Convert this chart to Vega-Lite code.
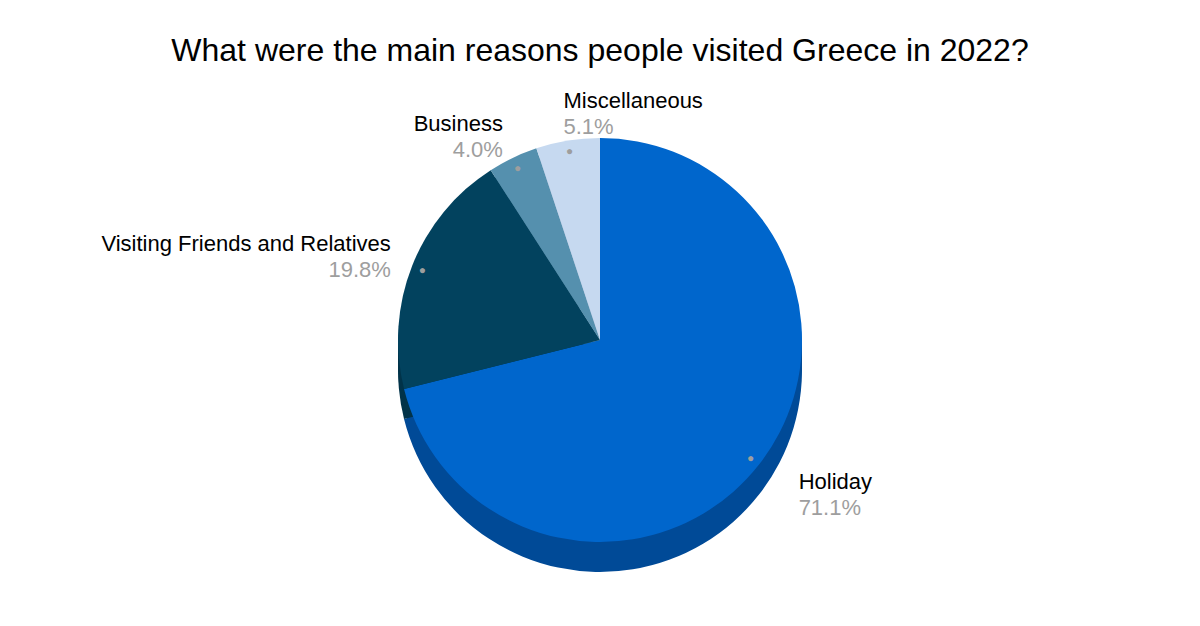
{
  "$schema": "https://vega.github.io/schema/vega-lite/v6.json",
  "width": 1200,
  "height": 464,
  "autosize": "none",
  "padding": {"top": 108, "left": 0, "right": 0, "bottom": 54},
  "background": "#ffffff",
  "title": {
    "text": "What were the main reasons people visited Greece in 2022?",
    "font": "Liberation Sans",
    "fontSize": 32,
    "fontWeight": "normal",
    "color": "#000000",
    "anchor": "middle",
    "offset": -1
  },
  "config": {"view": {"stroke": null}, "text": {"font": "Liberation Sans"}},
  "data": {
    "values": [
      {"reason": "Holiday", "share": 0.711, "order": 1},
      {"reason": "Visiting Friends and Relatives", "share": 0.198, "order": 2},
      {"reason": "Business", "share": 0.040, "order": 3},
      {"reason": "Miscellaneous", "share": 0.051, "order": 4}
    ]
  },
  "encoding": {
    "theta": {"field": "share", "type": "quantitative", "stack": true},
    "order": {"field": "order", "type": "quantitative", "sort": "ascending"}
  },
  "layer": [
    {
      "mark": {"type": "arc", "outerRadius": 202, "yOffset": 10},
      "encoding": {"color": {"field": "reason", "type": "nominal", "legend": null,
        "scale": {"domain": ["Holiday", "Visiting Friends and Relatives", "Business", "Miscellaneous"], "range": ["#004a97", "#013349", "#42708a", "#9db0c6"]}}}
    },
    {
      "mark": {"type": "arc", "outerRadius": 202, "yOffset": 20},
      "encoding": {"color": {"field": "reason", "type": "nominal", "legend": null,
        "scale": {"domain": ["Holiday", "Visiting Friends and Relatives", "Business", "Miscellaneous"], "range": ["#004a97", "#013349", "#42708a", "#9db0c6"]}}}
    },
    {
      "mark": {"type": "arc", "outerRadius": 202, "yOffset": 30},
      "encoding": {"color": {"field": "reason", "type": "nominal", "legend": null,
        "scale": {"domain": ["Holiday", "Visiting Friends and Relatives", "Business", "Miscellaneous"], "range": ["#004a97", "#013349", "#42708a", "#9db0c6"]}}}
    },
    {
      "mark": {"type": "arc", "outerRadius": 202},
      "encoding": {"color": {"field": "reason", "type": "nominal", "legend": null,
        "scale": {"domain": ["Holiday", "Visiting Friends and Relatives", "Business", "Miscellaneous"], "range": ["#0066cc", "#02425e", "#5590ae", "#c6d9f0"]}}}
    },
    {
      "mark": {"type": "text", "radius": 191, "fontSize": 12, "color": "#9e9e9e", "baseline": "middle"},
      "encoding": {"text": {"value": "●"}}
    },
    {
      "mark": {"type": "text", "radius": 252, "align": "left", "baseline": "middle", "fontSize": 22, "color": "#000000", "dy": -13},
      "encoding": {"text": {"condition": {"test": "datum.reason == 'Holiday'", "field": "reason"}, "value": ""}}
    },
    {
      "mark": {"type": "text", "radius": 252, "align": "left", "baseline": "middle", "fontSize": 22, "color": "#9e9e9e", "dy": 13},
      "encoding": {"text": {"condition": {"test": "datum.reason == 'Holiday'", "field": "share", "format": ".1%"}, "value": ""}}
    },
    {
      "mark": {"type": "text", "radius": 229, "align": "left", "baseline": "middle", "fontSize": 22, "color": "#000000", "dy": -13},
      "encoding": {"text": {"condition": {"test": "datum.reason == 'Miscellaneous'", "field": "reason"}, "value": ""}}
    },
    {
      "mark": {"type": "text", "radius": 229, "align": "left", "baseline": "middle", "fontSize": 22, "color": "#9e9e9e", "dy": 13},
      "encoding": {"text": {"condition": {"test": "datum.reason == 'Miscellaneous'", "field": "share", "format": ".1%"}, "value": ""}}
    },
    {
      "mark": {"type": "text", "radius": 225, "align": "right", "baseline": "middle", "fontSize": 22, "color": "#000000", "dy": -13},
      "encoding": {"text": {"condition": {"test": "datum.reason == 'Business' || datum.reason == 'Visiting Friends and Relatives'", "field": "reason"}, "value": ""}}
    },
    {
      "mark": {"type": "text", "radius": 225, "align": "right", "baseline": "middle", "fontSize": 22, "color": "#9e9e9e", "dy": 13},
      "encoding": {"text": {"condition": {"test": "datum.reason == 'Business' || datum.reason == 'Visiting Friends and Relatives'", "field": "share", "format": ".1%"}, "value": ""}}
    }
  ],
  "resolve": {"scale": {"color": "independent"}}
}
